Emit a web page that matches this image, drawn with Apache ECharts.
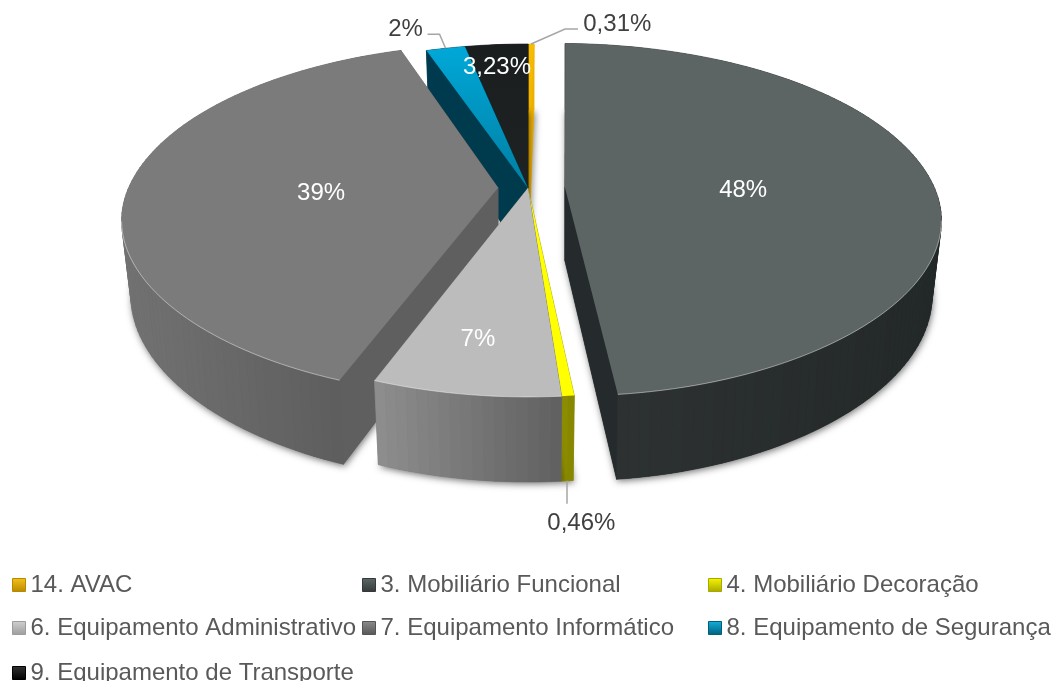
<!DOCTYPE html>
<html><head><meta charset="utf-8">
<script src="https://cdn.jsdelivr.net/npm/echarts@6/dist/echarts.min.js"></script>
<style>html,body{margin:0;padding:0;background:#fff}#c{width:1054px;height:681px}</style>
</head><body><div id="c"></div>
<script>
const categories = ['14. AVAC','3. Mobiliário Funcional','4. Mobiliário Decoração','6. Equipamento Administrativo','7. Equipamento Informático','8. Equipamento de Segurança','9. Equipamento de Transporte'];
const values = [0.31,48,0.46,7,39,2,3.23];
const labels = ['0,31%','48%','0,46%','7%','39%','2%','3,23%'];
const explode = [0,0.1,0,0,0.081,0,0];
const drawZ = [1,4,6,7,5,3,2];
const topColors = [['#f7bd00','#e9a800'],['#5d6564','#5d6564'],['#ffff00','#ffff00'],['#bcbcbc','#bcbcbc'],['#7b7b7b','#7b7b7b'],['#00a8d8','#007fa3'],['#1b1e1f','#1f2223']];
const wallColors = [['#eeb000','#eeb000'],['#2f3333','#232828'],['#8f8f00','#858500'],['#8e8e8e','#606060'],['#727272','#585858'],['#003a4e','#003a4e'],['#111111','#111111']];
const cutColors = ['#eeb000','#252b2c','#8a8a00','#777777','#5f5f5f','#003a4d','#101213'];
const legendIcon = [['#f6c11c','#b98a00'],['#5f6867','#333a39'],['#f7f700','#a8a800'],['#d0d0d0','#9c9c9c'],['#8c8c8c','#555555'],['#14b0dc','#00607c'],['#333333','#000000']];
const legendPos = [[12,585],[362,585],[708,585],[12,628],[362,628],[708,628],[12,673]];
// label placement: radius factor in the pie plane, then a pixel nudge
const labelAt = [[1.1,86,-8],[0.48,2,7],[1.32,-2,40],[0.77,-4,0],[0.48,0,7],[1.175,-28,1],[0.83,-4,2]];
const leaderOffsets = [[[34,-15],[47,-15]],null,[[0,23]],null,null,[[-6,-14],[-18,-14]],null];

const AX=528, AY=188, RX=369.6, RY=170.5, K=0.184, FRONT=0.035;
const BSX=0.975, BSY=1.054, BDY=63.6;
const total = values.reduce((a,b)=>a+b,0);
const D2R=Math.PI/180;
let acc=0;
const slices = values.map((v,i)=>{const a0=acc/total*360;acc+=v;const a1=acc/total*360;const mid=(a0+a1)/2;
  return {a0,a1,mid,du:explode[i]*Math.sin(mid*D2R),dv:-explode[i]*Math.cos(mid*D2R)};});
function proj(u,v){const s=1/(1-K*v);const f=v>0?1-FRONT*v*v:1;return [AX+RX*u*s*f,AY+RY*v*s];}
function rim(i,deg,r){const sl=slices[i];const t=deg*D2R;return proj(sl.du+r*Math.sin(t),sl.dv-r*Math.cos(t));}
function apexX(i){return rim(i,0,0)[0];}
function low(i,p){const ax=apexX(i);return [ax+(p[0]-ax)*BSX,BSY*p[1]+BDY];}
function arc(i){const sl=slices[i];const n=Math.max(2,Math.ceil((sl.a1-sl.a0)/1.5));const pts=[];
  for(let k=0;k<=n;k++)pts.push(rim(i,sl.a0+(sl.a1-sl.a0)*k/n,1));return pts;}
const grad=(c,h)=>new echarts.graphic.LinearGradient(0,0,h?1:0,h?0:1,[{offset:0,color:c[0]},{offset:1,color:c[1]}]);
const shadow={shadowBlur:7,shadowColor:'rgba(0,0,0,0.55)',shadowOffsetX:1,shadowOffsetY:2};

function sliceRender(i){return function(){
  const pts=arc(i),A=rim(i,0,0),lowA=low(i,A);
  const children=[];
  const poly=(points,style)=>({type:'polygon',silent:true,shape:{points},style});
  // bottom face carries the soft shadow
  children.push(poly([lowA].concat(pts.map(p=>low(i,p))),Object.assign({fill:cutColors[i]},shadow)));
  // cut faces: the one nearer to the viewer goes last
  const ends=[pts[0],pts[pts.length-1]].sort((a,b)=>a[1]-b[1]);
  ends.forEach(p=>children.push(poly([A,p,low(i,p),lowA],{fill:cutColors[i],stroke:cutColors[i],lineWidth:0.5})));
  // outer wall as shaded vertical strips, back to front
  const xs=pts.map(p=>p[0]),x0=Math.min.apply(null,xs),x1=Math.max.apply(null,xs);
  const strips=[];
  for(let k=0;k<pts.length-1;k++)strips.push([pts[k],pts[k+1]]);
  strips.sort((a,b)=>(a[0][1]+a[1][1])-(b[0][1]+b[1][1]));
  strips.forEach(s=>{
    const t=x1>x0?((s[0][0]+s[1][0])/2-x0)/(x1-x0):0;
    const c=echarts.color.lerp(t,wallColors[i]);
    children.push(poly([s[0],s[1],low(i,s[1]),low(i,s[0])],{fill:c,stroke:c,lineWidth:0.6}));
  });
  children.push(poly([A].concat(pts),{fill:grad(topColors[i],false)}));
  const front=pts.filter(p=>p[1]>AY+30);
  if(front.length>1&&i!==2)children.push({type:'polyline',shape:{points:front},style:{fill:null,stroke:'rgba(255,255,255,0.45)',lineWidth:1},silent:true});
  return {type:'group',children};
};}
function labelRender(){
  const children=[];
  values.forEach((v,i)=>{
    const l=labelAt[i],p=rim(i,slices[i].mid,l[0]);
    const inside=l[0]<1;
    children.push({type:'text',silent:true,style:{text:labels[i],x:p[0]+l[1],y:p[1]+l[2],align:'center',verticalAlign:'middle',
      font:'24px "Liberation Sans"',fill:inside?'#ffffff':'#404040'}});
    if(leaderOffsets[i]){
      let s=rim(i,slices[i].mid,1); if(i===2) s=low(i,s);
      const line=[s].concat(leaderOffsets[i].map(o=>[s[0]+o[0],s[1]+o[1]]));
      children.push({type:'polyline',silent:true,shape:{points:line},style:{fill:null,stroke:'#a6a6a6',lineWidth:1.5}});
    }
  });
  return {type:'group',children};
}
const series=categories.map((name,i)=>({type:'custom',name,coordinateSystem:'none',z:drawZ[i]+2,silent:true,animation:false,
  itemStyle:{color:topColors[i][0]},data:[[values[i]]],renderItem:sliceRender(i)}));
series.push({type:'custom',name:'labels',coordinateSystem:'none',z:20,silent:true,animation:false,data:[[0]],renderItem:labelRender});
const legend=categories.map((name,i)=>({data:[{name,icon:'rect',itemStyle:{color:grad(legendIcon[i],false),borderColor:legendIcon[i][1],borderWidth:1}}],
  left:legendPos[i][0],top:legendPos[i][1]-13,padding:0,itemWidth:13,itemHeight:13,selectedMode:false,
  textStyle:{fontFamily:'Liberation Sans',fontSize:24,color:'#595959',lineHeight:26}}));
const chart=echarts.init(document.getElementById('c'),null,{renderer:'canvas'});
chart.setOption({animation:false,backgroundColor:'#fff',legend,series});
</script></body></html>
